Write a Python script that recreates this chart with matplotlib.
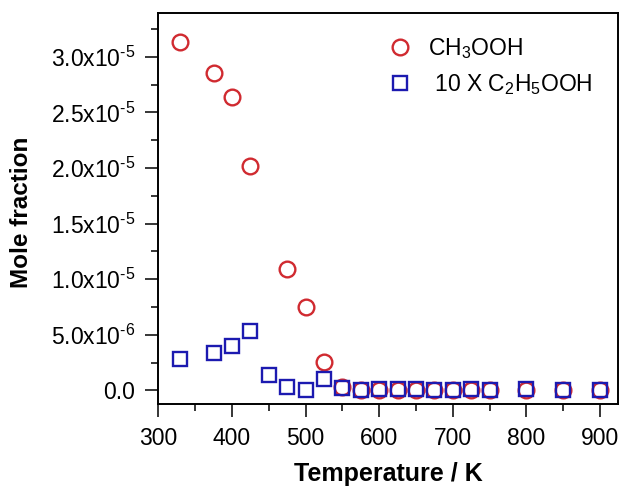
import matplotlib
matplotlib.use('Agg')
import matplotlib.pyplot as plt
from matplotlib.ticker import MultipleLocator

plt.rcParams['font.family'] = ['Liberation Sans', 'DejaVu Sans']
plt.rcParams['mathtext.fontset'] = 'custom'
plt.rcParams['mathtext.rm'] = 'Liberation Sans'
plt.rcParams['mathtext.it'] = 'Liberation Sans'
plt.rcParams['mathtext.default'] = 'regular'

# CH3OOH mole fraction
temps_ch3 = [330, 375, 400, 425, 475, 500, 525, 550, 575, 600, 625, 650, 675, 700, 725, 750, 800, 850, 900]
ch3ooh = [3.135e-5, 2.85e-5, 2.64e-5, 2.02e-5, 1.094e-5, 0.746e-5, 0.257e-5, 0.03e-5,
          0, 0, 0, 0, 0, 0, 0, 0, 0, 0, 0]

# 10 x C2H5OOH mole fraction
temps_c2 = [330, 375, 400, 425, 450, 475, 500, 525, 550, 575, 600, 625, 650, 675, 700, 725, 750, 800, 850, 900]
c2h5ooh = [2.8e-6, 3.4e-6, 4.0e-6, 5.36e-6, 1.38e-6, 0.3e-6, 0.0, 1.0e-6, 0.23e-6, 0.05e-6,
           0.1e-6, 0.08e-6, 0.08e-6, 0.05e-6, 0.05e-6, 0.1e-6, 0.05e-6, 0.15e-6, 0.03e-6, 0.03e-6]

yticks = [0, 0.5e-5, 1.0e-5, 1.5e-5, 2.0e-5, 2.5e-5, 3.0e-5]
yticklabels = ['0.0', '5.0x10$^{\\text{-}6}$', '1.0x10$^{\\text{-}5}$', '1.5x10$^{\\text{-}5}$',
               '2.0x10$^{\\text{-}5}$', '2.5x10$^{\\text{-}5}$', '3.0x10$^{\\text{-}5}$']
xticks = [300, 400, 500, 600, 700, 800, 900]

fig = plt.figure(figsize=(6.21, 4.86), dpi=100)
ax = fig.add_axes([158.3 / 621, 1 - 404 / 486, (617.7 - 158.3) / 621, (404 - 13) / 486])

ax.plot(temps_ch3, ch3ooh, linestyle='none', marker='o', ms=11.3, mfc='none',
        mec='#d02a30', mew=1.7, label='CH$_3$OOH')
ax.plot(temps_c2, c2h5ooh, linestyle='none', marker='s', ms=10.2, mfc='none',
        mec='#1c1ab0', mew=1.7, label=' 10 X C$_2$H$_5$OOH')

ax.set_xlim(300, 924)
ax.set_ylim(-1.23e-6, 3.393e-5)
ax.set_xticks(xticks)
ax.set_yticks(yticks)
ax.set_yticklabels(yticklabels)
ax.xaxis.set_minor_locator(MultipleLocator(50))
ax.yaxis.set_minor_locator(MultipleLocator(0.25e-5))

ax.tick_params(which='major', direction='out', length=9.5, width=1.1, labelsize=16.5)
ax.tick_params(axis='x', which='major', pad=7)
ax.tick_params(axis='y', which='major', pad=7)
ax.tick_params(which='minor', direction='out', length=5, width=1.1)
ax.tick_params(top=False, right=False)
for s in ax.spines.values():
    s.set_linewidth(1.4)

ax.set_xlabel('Temperature / K', fontsize=18, fontweight='bold')
ax.set_ylabel('Mole fraction', fontsize=17.5, fontweight='bold')
ax.xaxis.set_label_coords(0.5, -0.148)
ax.yaxis.set_label_coords(-0.273, 0.49)

ax.legend(loc='upper left', bbox_to_anchor=(0.502, 0.94), frameon=False, fontsize=16.5,
          handlelength=1.0, handletextpad=0.72, labelspacing=0.45, borderaxespad=0,
          borderpad=0)

fig.savefig('out.png', dpi=100)
